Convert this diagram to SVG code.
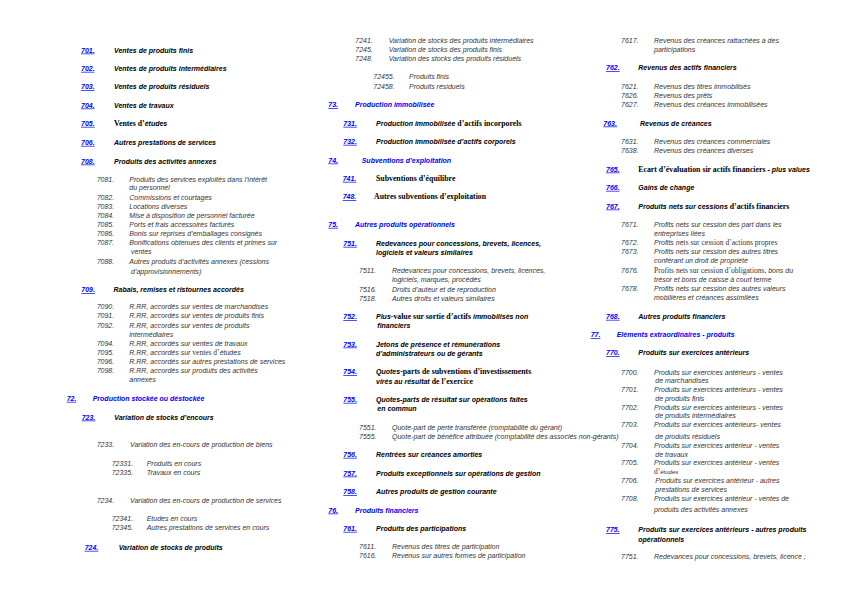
<svg xmlns="http://www.w3.org/2000/svg" width="841" height="595" viewBox="0 0 841 595" xml:space="preserve">
<style>
text { font-family: "Liberation Sans", Arial, sans-serif; font-size: 7px; }
.n { font-style: italic; font-weight: bold; fill: #0000ff; text-decoration: underline; }
.h { font-style: italic; font-weight: bold; fill: #000; }
.b { font-style: italic; font-weight: bold; fill: #0000ff; }
.s { font-style: italic; fill: #333; }
.sb { font-family: "Liberation Serif", "Times New Roman", serif; font-size: 7.8px; font-weight: bold; font-style: normal; fill: #000; }
.sr { font-family: "Liberation Serif", "Times New Roman", serif; font-size: 7.5px; font-weight: normal; font-style: normal; fill: #333; }
.ss { font-size: 6px; }
</style>
<rect width="841" height="595" fill="#fff"/>

<g id="col-left">
<g id="s70">
<text x="81" y="52.5" class="n">701.</text><text x="114" y="52.5" class="h">Ventes de produits finis</text>
<text x="81" y="70.8" class="n">702.</text><text x="114" y="70.8" class="h">Ventes de produits intermédiaires</text>
<text x="81" y="89.2" class="n">703.</text><text x="114" y="89.2" class="h">Ventes de produits résiduels</text>
<text x="81" y="107.5" class="n">704.</text><text x="114" y="107.5" class="h">Ventes de travaux</text>
<text x="81" y="125.8" class="n">705.</text><text x="114" y="125.8" class="h"><tspan class="sb">Ventes d’</tspan>études</text>
<text x="81" y="144.8" class="n">706.</text><text x="114" y="144.8" class="h">Autres prestations de services</text>
<text x="81" y="163.5" class="n">708.</text><text x="114" y="163.5" class="h">Produits des activités annexes</text>
</g>
<g id="s708" class="s">
<text x="96.7" y="181.8" class="s">7081.</text><text x="129.3" y="181.8" class="s">Produits des services exploités dans l’intérêt</text>
<text x="129.3" y="189.8" class="s">du personnel</text>
<text x="96.7" y="199.8" class="s">7082.</text><text x="129.3" y="199.8" class="s">Commissions et courtages</text>
<text x="96.7" y="208.8" class="s">7083.</text><text x="129.3" y="208.8" class="s">Locations diverses</text>
<text x="96.7" y="217.8" class="s">7084.</text><text x="129.3" y="217.8" class="s">Mise à disposition de personnel facturée</text>
<text x="96.7" y="226.8" class="s">7085.</text><text x="129.3" y="226.8" class="s">Ports et frais accessoires facturés</text>
<text x="96.7" y="235.8" class="s">7086.</text><text x="129.3" y="235.8" class="s">Bonis sur reprises d’emballages consignés</text>
<text x="96.7" y="244.8" class="s">7087.</text><text x="129.3" y="244.8" class="s">Bonifications obtenues des clients et primes sur</text>
<text x="131" y="253.5" class="s">ventes</text>
<text x="96.7" y="264.2" class="s">7088.</text><text x="129.3" y="264.2" class="s">Autres produits d’activités annexes (cessions</text>
<text x="131" y="273.5" class="s">d’approvisionnements)</text>
</g>
<g id="s709">
<text x="81.3" y="292" class="n">709.</text><text x="113.5" y="292" class="h">Rabais, remises et ristournes accordés</text>
<text x="96.7" y="309.2" class="s">7090.</text><text x="129.3" y="309.2" class="s">R.RR, accordés sur ventes de marchandises</text>
<text x="96.7" y="318.2" class="s">7091.</text><text x="129.3" y="318.2" class="s">R.RR, accordés sur ventes de produits finis</text>
<text x="96.7" y="327.5" class="s">7092.</text><text x="129.3" y="327.5" class="s">R.RR, accordés  sur ventes de produits</text>
<text x="129.3" y="336.5" class="s">intermédiaires</text>
<text x="96.7" y="345.8" class="s">7094.</text><text x="129.3" y="345.8" class="s">R.RR, accordés sur  ventes de travaux</text>
<text x="96.7" y="355.2" class="s">7095.</text><text x="129.3" y="355.2" class="s">R.RR, accordés sur  <tspan class="sr">ventes d’</tspan>études</text>
<text x="96.7" y="364.2" class="s">7096.</text><text x="129.3" y="364.2" class="s">R.RR, accordés sur autres prestations de services</text>
<text x="96.7" y="373.2" class="s">7098.</text><text x="129.3" y="373.2" class="s">R.RR, accordés sur produits des activités</text>
<text x="129.3" y="382.2" class="s">annexes</text>
</g>
<g id="s72">
<text x="66.7" y="400.8" class="n">72.</text><text x="92.7" y="400.8" class="b">Production stockée ou déstockée</text>
<text x="81.7" y="419.5" class="n">723.</text><text x="114.3" y="419.5" class="h">Variation de stocks d’encours</text>
<text x="96.7" y="447.2" class="s">7233.</text><text x="130" y="447.2" class="s">Variation des en-cours de production de biens</text>
<text x="111.7" y="465.8" class="s">72331.</text><text x="146.7" y="465.8" class="s">Produits en cours</text>
<text x="111.7" y="474.8" class="s">72335.</text><text x="146.7" y="474.8" class="s">Travaux en cours</text>
<text x="96.7" y="502.5" class="s">7234.</text><text x="130" y="502.5" class="s">Variation des en-cours de production de services</text>
<text x="111.7" y="520.8" class="s">72341.</text><text x="146.7" y="520.8" class="s">Etudes en cours</text>
<text x="111.7" y="530.2" class="s">72345.</text><text x="146.7" y="530.2" class="s">Autres prestations de services en cours</text>
<text x="84.7" y="549.8" class="n">724.</text><text x="118.7" y="549.8" class="h">Variation de stocks de produits</text>
</g>
</g>

<g id="col-middle">
<g id="s724">
<text x="355.3" y="42.5" class="s">7241.</text><text x="388.7" y="42.5" class="s">Variation de stocks des produits intermédiaires</text>
<text x="355.3" y="51.8" class="s">7245.</text><text x="388.7" y="51.8" class="s">Variation de stocks des produits finis</text>
<text x="355.3" y="61.2" class="s">7248.</text><text x="388.7" y="61.2" class="s">Variation des stocks des produits résiduels</text>
<text x="373.3" y="79.2" class="s">72455.</text><text x="409" y="79.2" class="s">Produits finis</text>
<text x="373.3" y="88.5" class="s">72458.</text><text x="409" y="88.5" class="s">Produits résiduels</text>
</g>
<g id="s73">
<text x="328.3" y="107.2" class="n">73.</text><text x="355" y="107.2" class="b">Production immobilisée</text>
<text x="343.3" y="125.8" class="n">731.</text><text x="376" y="125.8" class="h">Production immobilisée<tspan class="sb"> d’actifs incorporels</tspan></text>
<text x="343.3" y="143.8" class="n">732.</text><text x="376" y="143.8" class="h">Production immobilisée d’actifs corporels</text>
</g>
<g id="s74">
<text x="328.3" y="162.5" class="n">74.</text><text x="361.7" y="162.5" class="b">Subventions d’exploitation</text>
<text x="342.7" y="180.8" class="n">741.</text><text x="376" y="180.8" class="sb">Subventions d’équilibre</text>
<text x="342.7" y="199.2" class="n">748.</text><text x="374" y="199.2" class="sb">Autres  subventions d’exploitation</text>
</g>
<g id="s75">
<text x="328.3" y="226.8" class="n">75.</text><text x="355" y="226.8" class="b">Autres produits opérationnels</text>
<text x="343.3" y="245.8" class="n">751.</text><text x="376" y="245.8" class="h">Redevances pour concessions, brevets, licences,</text>
<text x="376" y="254.8" class="h">logiciels et valeurs similaires</text>
<text x="359" y="273.2" class="s">7511.</text><text x="392" y="273.2" class="s">Redevances pour concessions, brevets, licences,</text>
<text x="392" y="282.2" class="s">logiciels, marques, procédés</text>
<text x="359" y="291.5" class="s">7516.</text><text x="392" y="291.5" class="s">Droits d’auteur et de reproduction</text>
<text x="359" y="300.5" class="s">7518.</text><text x="392" y="300.5" class="s">Autres droits et valeurs similaires</text>
<text x="343.3" y="319.2" class="n">752.</text><text x="376" y="319.2" class="h">Plus<tspan class="sb">-value sur sortie d’actifs </tspan>immobilisés non</text>
<text x="377.3" y="328.2" class="h">financiers</text>
<text x="343.3" y="346.5" class="n">753.</text><text x="376" y="346.5" class="h">Jetons de présence et rémunérations</text>
<text x="376" y="355.8" class="h">d’administrateurs ou de gérants</text>
<text x="343.3" y="374.2" class="n">754.</text><text x="376" y="374.2" class="h">Quotes<tspan class="sb">-parts  de subventions d’investissements</tspan></text>
<text x="376" y="383.5" class="h">virés au résultat<tspan class="sb"> de l’exercice</tspan></text>
<text x="343.3" y="401.8" class="n">755.</text><text x="376" y="401.8" class="h">Quotes-parts de résultat sur opérations faites</text>
<text x="377.3" y="411.2" class="h">en commun</text>
<text x="359" y="429.5" class="s">7551.</text><text x="392" y="429.5" class="s">Quote-part de perte transférée (comptabilité du gérant)</text>
<text x="359" y="438.5" class="s">7555.</text><text x="392" y="438.5" class="s">Quote-part de bénéfice attribuée (comptabilité des associés non-gérants)</text>
<text x="343.3" y="456.8" class="n">756.</text><text x="376" y="456.8" class="h">Rentrées sur créances amorties</text>
<text x="343.3" y="475.5" class="n">757.</text><text x="376" y="475.5" class="h">Produits exceptionnels sur opérations de gestion</text>
<text x="343.3" y="494.2" class="n">758.</text><text x="376" y="494.2" class="h">Autres produits de gestion courante</text>
</g>
<g id="s76">
<text x="328.3" y="512.5" class="n">76.</text><text x="355" y="512.5" class="b">Produits financiers</text>
<text x="343.3" y="530.8" class="n">761.</text><text x="376" y="530.8" class="h">Produits des participations</text>
<text x="359" y="548.8" class="s">7611.</text><text x="392" y="548.8" class="s">Revenus des titres de participation</text>
<text x="359" y="558.2" class="s">7616.</text><text x="392" y="558.2" class="s">Revenus sur autres formes de participation</text>
</g>
</g>

<g id="col-right">
<g id="s761b">
<text x="621" y="42.5" class="s">7617.</text><text x="654" y="42.5" class="s">Revenus des créances rattachées à des</text>
<text x="654" y="51.8" class="s">participations</text>
</g>
<g id="s762">
<text x="606" y="70.2" class="n">762.</text><text x="638.3" y="70.2" class="h">Revenus des actifs  financiers</text>
<text x="621" y="88.5" class="s">7621.</text><text x="654" y="88.5" class="s">Revenus des titres immobilisés</text>
<text x="621" y="97.8" class="s">7626.</text><text x="654" y="97.8" class="s">Revenus des prêts</text>
<text x="621" y="106.8" class="s">7627.</text><text x="654" y="106.8" class="s">Revenus des créances immobilisées</text>
</g>
<g id="s763">
<text x="603.3" y="125.5" class="n">763.</text><text x="640" y="125.5" class="h">Revenus de créances</text>
<text x="621" y="143.8" class="s">7631.</text><text x="654" y="143.8" class="s">Revenus des créances commerciales</text>
<text x="621" y="153.2" class="s">7638.</text><text x="654" y="153.2" class="s">Revenus des créances diverses</text>
</g>
<g id="s765">
<text x="606" y="171.5" class="n">765.</text><text x="638.3" y="171.5" class="h"><tspan class="sb">Ecart d’évaluation sir actifs financiers</tspan> - plus values</text>
<text x="606" y="189.8" class="n">766.</text><text x="638.3" y="189.8" class="h">Gains de change</text>
</g>
<g id="s767">
<text x="606" y="208.5" class="n">767.</text><text x="638.3" y="208.5" class="h">Produits nets sur cessions<tspan class="sb"> d’actifs financiers</tspan></text>
<text x="621" y="226.8" class="s">7671.</text><text x="654" y="226.8" class="s">Profits nets sur cession des part dans les</text>
<text x="654" y="235.8" class="s">entreprises liées</text>
<text x="621" y="245.2" class="s">7672.</text><text x="654" y="245.2" class="s">Profits ne<tspan class="sr">ts sur cession d’actions propres</tspan></text>
<text x="621" y="254.2" class="s">7673.</text><text x="654" y="254.2" class="s">Profits nets sur cession des autres titres</text>
<text x="654" y="263.2" class="s">conférant un droit de propriété</text>
<text x="621" y="272.8" class="s">7676.</text><text x="654" y="272.8" class="s"><tspan class="sr">Profits nets sur cession d’obligations, </tspan>bons du</text>
<text x="654" y="281.8" class="s">trésor et bons de caisse à court terme</text>
<text x="621" y="291.2" class="s">7678.</text><text x="654" y="291.2" class="s">Profits nets sur cession des autres valeurs</text>
<text x="654" y="300.2" class="s">mobilières et créances assimilées</text>
<text x="606" y="318.8" class="n">768.</text><text x="638.3" y="318.8" class="h">Autres produits financiers</text>
</g>
<g id="s77">
<text x="590.7" y="337.2" class="n">77.</text><text x="616.7" y="337.2" class="b">Eléments extraordinaires  - produits</text>
<text x="606" y="355.2" class="n">770.</text><text x="638.3" y="355.2" class="h">Produits sur exercices antérieurs</text>
<text x="621" y="374.8" class="s">7700.</text><text x="654" y="374.8" class="s">Produits sur exercices antérieurs - ventes</text>
<text x="655.3" y="383.2" class="s">de marchandises</text>
<text x="621" y="392.2" class="s">7701.</text><text x="654" y="392.2" class="s">Produits sur exercices antérieurs - ventes</text>
<text x="655.3" y="400.5" class="s">de produits finis</text>
<text x="621" y="409.5" class="s">7702.</text><text x="654" y="409.5" class="s">Produits sur exercices antérieurs - ventes</text>
<text x="655.3" y="418.2" class="s">de produits intermédiaires</text>
<text x="621" y="427.2" class="s">7703.</text><text x="654" y="427.2" class="s">Produits sur exercices antérieurs- ventes</text>
<text x="655.3" y="438.5" class="s">de produits résiduels</text>
<text x="621" y="447.8" class="s">7704.</text><text x="654" y="447.8" class="s">Produits sur exercices antérieur - ventes</text>
<text x="655.3" y="456.5" class="s">de travaux</text>
<text x="621" y="464.8" class="s">7705.</text><text x="654" y="464.8" class="s">Produits sur exercices antérieur - ventes</text>
<text x="654" y="473.8" class="s"><tspan class="sr">d’</tspan><tspan class="ss">études</tspan></text>
<text x="621" y="482.5" class="s">7706.</text><text x="655.3" y="482.5" class="s">Produits sur exercices antérieur - autres</text>
<text x="655.3" y="492.2" class="s">prestations de services</text>
<text x="621" y="500.8" class="s">7708.</text><text x="654" y="500.8" class="s">Produits sur exercices antérieur - ventes de</text>
<text x="654" y="511.8" class="s">produits des activités annexes</text>
<text x="606" y="532.2" class="n">775.</text><text x="638.3" y="532.2" class="h">Produits sur exercices antérieurs - autres produits</text>
<text x="638.3" y="541.5" class="h">opérationnels</text>
<text x="621" y="558.5" class="s">7751.</text><text x="654" y="558.5" class="s">Redevances pour concessions, brevets, licence ;</text>
</g>
</g>
</svg>
